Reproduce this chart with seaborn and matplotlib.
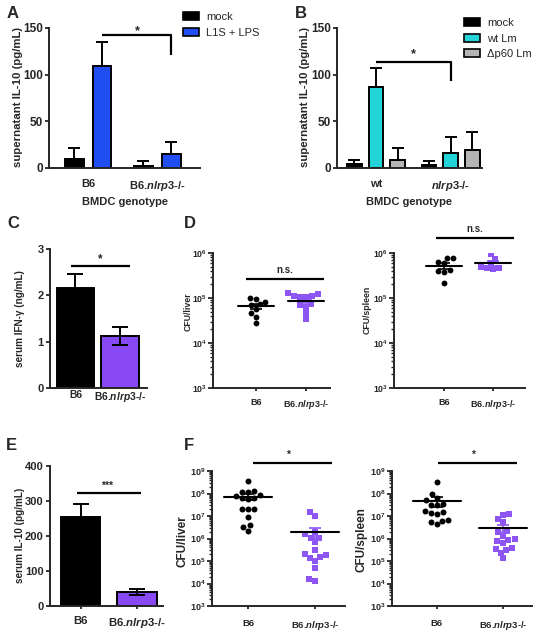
import numpy as np
import pandas as pd
import matplotlib
matplotlib.use("Agg")
import matplotlib.pyplot as plt
import seaborn as sns
from matplotlib.patches import Patch
from matplotlib.ticker import FixedLocator, LogLocator, FuncFormatter, NullFormatter

# ---------------- data ----------------
genotypes = ["B6", "B6.nlrp3-/-"]
tick_labels_b6 = ["B6", r"B6.$\mathit{nlrp3}$-/-"]

# Panel A
a_conditions = ["mock", "L1S + LPS"]
a_mock = [9.4, 2.2]
a_mock_err = [12.2, 5.4]
a_l1s = [109.0, 15.5]
a_l1s_err = [26.0, 12.5]

# Panel B
b_genotypes = ["wt", "nlrp3-/-"]
b_tick_labels = ["wt", r"$\mathit{nlrp3}$-/-"]
b_conditions = ["mock", "wt Lm", "Δp60 Lm"]
b_mock = [4.6, 3.2]
b_mock_err = [3.6, 4.3]
b_wtlm = [86.8, 16.0]
b_wtlm_err = [20.2, 17.2]
b_dp60 = [8.2, 19.3]
b_dp60_err = [13.2, 19.3]

# Panel C (serum IFN-g, ng/mL)
c_vals = [2.15, 1.12]
c_err = [0.31, 0.20]

# Panel E (serum IL-10, pg/mL)
e_vals = [253.0, 40.0]
e_err = [38.0, 9.0]

# Panel D (CFU)
d_liver_b6 = [1.0e5, 8.3e4, 7.1e4, 7.4e4, 9.3e4, 5.8e4, 4.6e4, 3.8e4, 2.8e4]
d_liver_ko = [1.26e5, 1.1e5, 1.07e5, 1.07e5, 1.1e5, 1.2e5, 6.9e4, 6.2e4, 7.4e4, 4.6e4, 3.4e4]
d_spleen_b6 = [7.6e5, 5.9e5, 6.2e5, 7.9e5, 4.0e5, 3.7e5, 4.2e5, 2.2e5]
d_spleen_ko = [9.5e5, 7.4e5, 5.9e5, 4.6e5, 4.5e5, 4.7e5, 5.0e5]

# Panel F (CFU)
f_liver_b6 = [3.6e8, 1.17e8, 1.17e8, 1.26e8, 7.6e7, 6.3e7, 6.3e7, 5.6e7, 8.5e7,
              1.95e7, 1.95e7, 1.95e7, 8.9e6, 3.9e6, 3.3e6, 2.2e6]
f_liver_ko = [1.5e7, 9.8e6, 1.55e6, 1.1e6, 1.1e6, 1.95e6, 7.1e5, 3.0e5, 1.8e5,
              1.4e5, 1.5e5, 2.0e5, 1.0e5, 4.7e4, 1.3e4, 1.55e4]
f_spleen_b6 = [3.2e8, 9.1e7, 4.9e7, 3.5e7, 3.0e7, 3.2e7, 1.7e7, 1.2e7, 1.3e7,
               1.5e7, 6.3e6, 4.5e6, 5.4e6, 6.5e6, 6.0e7]
f_spleen_ko = [1.1e7, 1.29e7, 7.4e6, 5.4e6, 2.1e6, 1.9e6, 1.35e6, 9.1e5, 6.5e5,
               8.1e5, 8.7e5, 3.5e5, 2.3e5, 3.0e5, 3.6e5, 1.3e5]

# ---------------- style ----------------
sns.set_theme(style="ticks")
plt.rcParams["font.family"] = ["Liberation Sans", "DejaVu Sans"]
plt.rcParams["mathtext.fontset"] = "custom"
plt.rcParams["mathtext.rm"] = "Liberation Sans:bold"
plt.rcParams["mathtext.it"] = "Liberation Sans:italic:bold"
plt.rcParams["mathtext.bf"] = "Liberation Sans:bold"
plt.rcParams["axes.linewidth"] = 1.4

BLACK = "#000000"
BLUE = "#1F4FF2"
CYAN = "#22D3D8"
GREY = "#B4B4B4"
PURPLE = "#8848F4"
PURPLE_DOT = "#8C55F4"

W, H = 544, 632
fig = plt.figure(figsize=(W / 100, H / 100), dpi=100)


def px_axes(l, t, r, b):
    return fig.add_axes([l / W, 1 - b / H, (r - l) / W, (b - t) / H])


def style_axes(ax, xfs, yfs, xpad=3, xlen=0):
    sns.despine(ax=ax)
    ax.tick_params(axis="y", labelsize=yfs, width=1.3, length=3, pad=1.5)
    ax.tick_params(axis="x", labelsize=xfs, width=1.3, length=xlen, pad=xpad)
    for lab in ax.get_xticklabels() + ax.get_yticklabels():
        lab.set_fontweight("bold")


def set_ylabel_px(ax, text, x_right, y, fs):
    # x_right: right edge of the rotated label (pixels), y: vertical centre (pixels)
    ax.set_ylabel(text, fontsize=fs, fontweight="bold")
    ax.yaxis.set_label_coords(x_right / W, 1 - y / H, transform=fig.transFigure)


def bracket(ax, x0, x1, y, drop=None, lw=1.6):
    if drop is None:
        ax.plot([x0, x1], [y, y], color="black", lw=lw, clip_on=False, solid_capstyle="butt")
    else:
        ax.plot([x0, x1, x1], [y, y, drop], color="black", lw=lw, clip_on=False, solid_capstyle="butt")


def grouped_bars(ax, genos, conds, means, errs, colors, width, gap):
    rows = []
    for c, m in zip(conds, means):
        for g, v in zip(genos, m):
            rows.append({"genotype": g, "condition": c, "value": v})
    df = pd.DataFrame(rows)
    sns.barplot(data=df, x="genotype", y="value", hue="condition", order=genos,
                hue_order=conds, palette=colors, width=width, gap=gap,
                edgecolor="black", linewidth=1.4, errorbar=None, legend=False,
                saturation=1, ax=ax)
    patches = list(ax.patches)
    k = 0
    for ci, (m, e) in enumerate(zip(means, errs)):
        for gi in range(len(genos)):
            p = patches[k]
            k += 1
            xc = p.get_x() + p.get_width() / 2
            ax.errorbar([xc], [m[gi]], yerr=[[0], [e[gi]]], fmt="none", ecolor="black",
                        elinewidth=1.4, capsize=4, capthick=1.4, zorder=1)


def simple_bars(ax, vals, errs, colors, width):
    df = pd.DataFrame({"genotype": genotypes, "value": vals})
    sns.barplot(data=df, x="genotype", y="value", hue="genotype", order=genotypes,
                palette=colors, width=width, edgecolor="black", linewidth=1.4,
                errorbar=None, legend=False, saturation=1, ax=ax)
    ax.errorbar([0, 1], vals, yerr=errs, fmt="none", ecolor="black",
                elinewidth=1.4, capsize=6, capthick=1.4, zorder=3)


def dot_panel(ax, b6, ko, size, mean_half=0.36, cap=4):
    df1 = pd.DataFrame({"g": "B6", "v": b6})
    df2 = pd.DataFrame({"g": "B6.nlrp3-/-", "v": ko})
    sns.swarmplot(data=df1, x="g", y="v", order=genotypes, color=BLACK, marker="o",
                  size=size, linewidth=0, log_scale=True, ax=ax, zorder=2)
    sns.swarmplot(data=df2, x="g", y="v", order=genotypes, color=PURPLE_DOT, marker="s",
                  size=size, linewidth=0, log_scale=True, ax=ax, zorder=2)
    for i, (vals, col) in enumerate([(b6, BLACK), (ko, PURPLE_DOT)]):
        v = np.asarray(vals)
        m = v.mean()
        se = v.std(ddof=1) / np.sqrt(len(v))
        ax.errorbar([i], [m], yerr=[se], fmt="none", ecolor=col, elinewidth=1.2,
                    capsize=cap, capthick=1.2, zorder=3)
        ax.plot([i - mean_half, i + mean_half], [m, m], color="black", lw=1.5, zorder=4)


def log_axis(ax, lo, hi, fs):
    ax.set_yscale("log")
    ax.set_ylim(10.0 ** lo, 10.0 ** hi)
    ax.yaxis.set_major_locator(FixedLocator([10.0 ** k for k in range(lo, hi + 1)]))
    ax.yaxis.set_minor_locator(LogLocator(base=10, subs=np.arange(2, 10)))
    ax.yaxis.set_major_formatter(FuncFormatter(lambda v, p: r"$10^{%d}$" % int(round(np.log10(v)))))
    ax.yaxis.set_minor_formatter(NullFormatter())
    ax.tick_params(axis="y", which="minor", length=2, width=1.0)
    ax.tick_params(axis="y", which="major", length=3.5, width=1.3, labelsize=fs, pad=1)


def letter(x, y, s):
    fig.text(x / W, 1 - y / H, s, fontsize=12, fontweight="bold", ha="left", va="center")


LEG_KW = dict(loc="upper left", frameon=False, fontsize=8, handlelength=1.45,
              handleheight=0.75, labelspacing=0.5, handletextpad=0.65,
              borderaxespad=0, borderpad=0)

# ---------------- Panel A ----------------
axA = px_axes(49, 28, 200, 168)
grouped_bars(axA, genotypes, a_conditions, [a_mock, a_l1s], [a_mock_err, a_l1s_err],
             [BLACK, BLUE], width=0.806, gap=0.32)
axA.set_ylim(0, 150)
axA.set_yticks([0, 50, 100, 150])
axA.set_xlim(-0.565, 1.62)
axA.set_xticks([0, 1])
axA.set_xticklabels(tick_labels_b6)
axA.set_xlabel("BMDC genotype", fontsize=8, fontweight="bold", labelpad=3)
style_axes(axA, 8, 8.5, xpad=8)
set_ylabel_px(axA, "supernatant IL-10 (pg/mL)", 23, 97, 8.2)
bracket(axA, 0.2, 1.2, 142.8, drop=121.6)
axA.text(0.72, 140.5, "*", ha="center", va="bottom", fontsize=9, fontweight="bold")
fig.legend(handles=[Patch(facecolor=c, edgecolor="black", linewidth=1.2) for c in [BLACK, BLUE]],
           labels=a_conditions, bbox_to_anchor=(183 / W, 1 - 12 / H), **LEG_KW)

# ---------------- Panel B ----------------
axB = px_axes(337, 28, 482, 168)
grouped_bars(axB, b_genotypes, b_conditions, [b_mock, b_wtlm, b_dp60],
             [b_mock_err, b_wtlm_err, b_dp60_err], [BLACK, CYAN, GREY], width=0.873, gap=0.32)
axB.set_ylim(0, 150)
axB.set_yticks([0, 50, 100, 150])
axB.set_xlim(-0.523, 1.42)
axB.set_xticks([0, 1])
axB.set_xticklabels(b_tick_labels)
axB.set_xlabel("BMDC genotype", fontsize=8, fontweight="bold", labelpad=3)
style_axes(axB, 8, 8.5, xpad=8)
set_ylabel_px(axB, "supernatant IL-10 (pg/mL)", 310, 97, 8.2)
bracket(axB, 0.0, 1.0, 113.6, drop=92.9)
axB.text(0.5, 115.8, "*", ha="center", va="bottom", fontsize=9, fontweight="bold")
fig.legend(handles=[Patch(facecolor=c, edgecolor="black", linewidth=1.2) for c in [BLACK, CYAN, GREY]],
           labels=b_conditions, bbox_to_anchor=(464 / W, 1 - 18 / H), **LEG_KW)

# ---------------- Panel C ----------------
axC = px_axes(50, 249, 147, 388)
simple_bars(axC, c_vals, c_err, [BLACK, PURPLE], width=0.85)
axC.set_ylim(0, 3)
axC.set_yticks([0, 1, 2, 3])
axC.set_xlim(-0.573, 1.607)
axC.set_xticks([0, 1])
axC.set_xticklabels(tick_labels_b6)
axC.set_xlabel("")
style_axes(axC, 7.4, 8, xpad=1.5)
set_ylabel_px(axC, "serum IFN-γ (ng/mL)", 25, 319, 7.2)
bracket(axC, -0.09, 1.22, 2.64)
axC.text(0.56, 2.655, "*", ha="center", va="bottom", fontsize=8.5, fontweight="bold")

# ---------------- Panel E ----------------
axE = px_axes(50, 466, 163, 606)
simple_bars(axE, e_vals, e_err, [BLACK, PURPLE], width=0.7)
axE.set_ylim(0, 400)
axE.set_yticks([0, 100, 200, 300, 400])
axE.set_xlim(-0.54, 1.46)
axE.set_xticks([0, 1])
axE.set_xticklabels(tick_labels_b6)
axE.set_xlabel("")
style_axes(axE, 8.2, 8, xpad=5, xlen=2)
set_ylabel_px(axE, "serum IL-10 (pg/mL)", 25, 535, 7.2)
bracket(axE, -0.06, 1.07, 321.7)
axE.text(0.47, 330, "***", ha="center", va="bottom", fontsize=7.5, fontweight="bold")

# ---------------- Panel D ----------------
axD1 = px_axes(213, 253, 330, 388)
dot_panel(axD1, d_liver_b6, d_liver_ko, size=4.2)
axD1.set_xlim(-0.86, 1.48)
axD1.set_xticks([0, 1])
axD1.set_xticklabels(tick_labels_b6)
axD1.set_xlabel("")
style_axes(axD1, 6.5, 6.2, xpad=5, xlen=2)
log_axis(axD1, 3, 6, 6.2)
set_ylabel_px(axD1, "CFU/liver", 193, 312, 6.3)
bracket(axD1, -0.2, 1.36, 10 ** 5.42)
axD1.text(0.58, 10 ** 5.52, "n.s.", ha="center", va="bottom", fontsize=7, fontweight="bold")

axD2 = px_axes(394, 253, 525, 388)
dot_panel(axD2, d_spleen_b6, d_spleen_ko, size=4.2)
axD2.set_xlim(-1.02, 1.65)
axD2.set_xticks([0, 1])
axD2.set_xticklabels(tick_labels_b6)
axD2.set_xlabel("")
style_axes(axD2, 6.5, 6.2, xpad=5, xlen=2)
log_axis(axD2, 3, 6, 6.2)
set_ylabel_px(axD2, "CFU/spleen", 372, 310, 6.3)
bracket(axD2, -0.16, 1.43, 10 ** 6.33)
axD2.text(0.63, 10 ** 6.43, "n.s.", ha="center", va="bottom", fontsize=7, fontweight="bold")

# ---------------- Panel F ----------------
axF1 = px_axes(212, 471, 345, 606)
dot_panel(axF1, f_liver_b6, f_liver_ko, size=4.3)
axF1.set_xlim(-0.54, 1.45)
axF1.set_xticks([0, 1])
axF1.set_xticklabels(tick_labels_b6)
axF1.set_xlabel("")
style_axes(axF1, 6.8, 6.5, xpad=7, xlen=2)
log_axis(axF1, 3, 9, 6.5)
set_ylabel_px(axF1, "CFU/liver", 189, 541, 8.5)
bracket(axF1, 0.07, 1.25, 10 ** 9.35)
axF1.text(0.61, 10 ** 9.5, "*", ha="center", va="bottom", fontsize=7, fontweight="bold")

axF2 = px_axes(392, 471, 532, 606)
dot_panel(axF2, f_spleen_b6, f_spleen_ko, size=4.3)
axF2.set_xlim(-0.68, 1.44)
axF2.set_xticks([0, 1])
axF2.set_xticklabels(tick_labels_b6)
axF2.set_xlabel("")
style_axes(axF2, 6.8, 6.5, xpad=7, xlen=2)
log_axis(axF2, 3, 9, 6.5)
set_ylabel_px(axF2, "CFU/spleen", 368, 540, 8.5)
bracket(axF2, 0.02, 1.22, 10 ** 9.35)
axF2.text(0.56, 10 ** 9.5, "*", ha="center", va="bottom", fontsize=7, fontweight="bold")

# ---------------- panel letters ----------------
letter(7, 13, "A")
letter(295, 14, "B")
letter(7, 224, "C")
letter(184, 224, "D")
letter(6, 445, "E")
letter(184, 445, "F")

fig.savefig("out.png", dpi=100)
